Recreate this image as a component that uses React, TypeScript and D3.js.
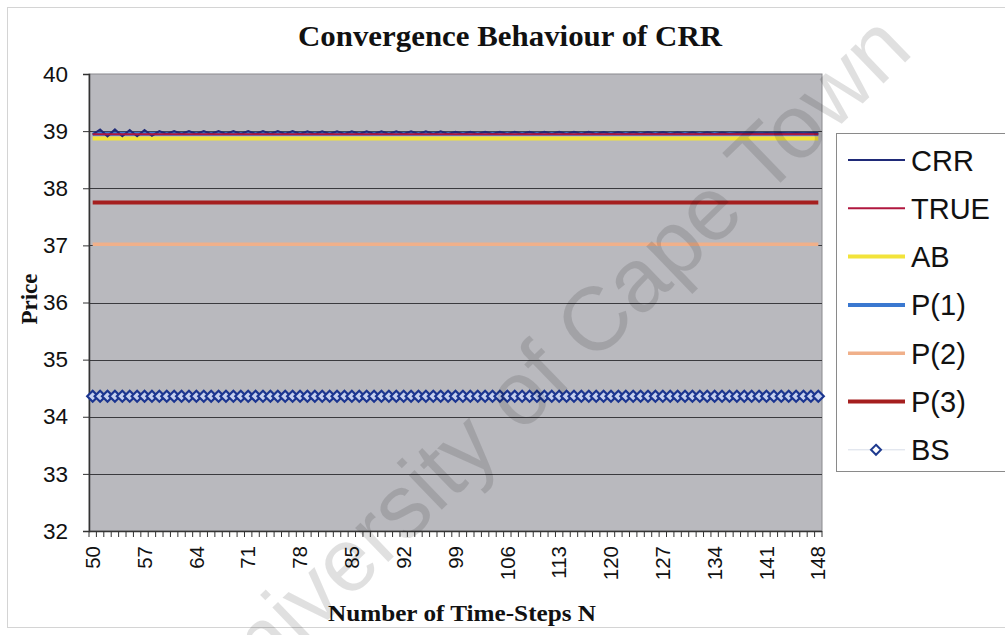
import React, { useRef, useEffect } from "react";
import * as d3 from "d3";

const W = 1005;
const H = 635;
const PLOT = { left: 89, right: 822, top: 74, bottom: 531 };

// time-steps N on the category axis
const STEPS: number[] = d3.range(50, 149);
const TICK_LABELS = ["50", "57", "64", "71", "78", "85", "92", "99", "106", "113", "120", "127", "134", "141", "148"];
const Y_TICKS = [32, 33, 34, 35, 36, 37, 38, 39, 40];

// CRR price per N (oscillates then settles)
const CRR = [
  38.94, 39.03, 38.91, 39.03, 38.91, 39.02, 38.91, 39.02, 38.92,
  39.0, 38.95, 39.0, 38.95, 39.0, 38.95, 39.0, 38.95, 39.0, 38.95,
  39.0, 38.95, 39.0, 38.95, 39.0, 38.95, 39.0, 38.95, 39.0, 38.95,
  38.995, 38.95, 38.995, 38.95, 38.995, 38.95, 38.995, 38.95, 38.995, 38.95,
  38.995, 38.95, 38.995, 38.95, 38.995, 38.95, 38.995, 38.95, 38.995, 38.95,
  38.99, 38.95, 38.99, 38.95, 38.99, 38.95, 38.99, 38.95, 38.99, 38.95,
  38.99, 38.95, 38.99, 38.95, 38.99, 38.95, 38.99, 38.95, 38.99, 38.95,
  38.985, 38.95, 38.985, 38.95, 38.985, 38.95, 38.985, 38.95, 38.985, 38.95,
  38.98, 38.95, 38.98, 38.95, 38.98, 38.95, 38.975, 38.955,
  38.965, 38.962, 38.965, 38.962, 38.965, 38.962, 38.965, 38.962, 38.965, 38.962, 38.965, 38.962,
];
// the other methods are flat over N
const TRUE_PRICE = 38.945;
const AB_PRICE = 38.87;
const P1_PRICE = 38.955;
const P2_PRICE = 37.02;
const P3_PRICE = 37.75;
const BS_PRICE = 34.36;

const SERIES = [
  { name: "CRR", color: "#1f2a78", width: 2 },
  { name: "TRUE", color: "#b0173f", width: 2 },
  { name: "AB", color: "#f2e33a", width: 4 },
  { name: "P(1)", color: "#3a78d0", width: 4 },
  { name: "P(2)", color: "#f0b08a", width: 3.5 },
  { name: "P(3)", color: "#a51f1f", width: 4 },
  { name: "BS", color: "#1e3a8f", width: 1 },
];

const SANS = "Arial, 'Liberation Sans', sans-serif";
const SERIF = "'Times New Roman', 'Liberation Serif', serif";

export default function App() {
  const svgRef = useRef<SVGSVGElement>(null);

  useEffect(() => {
    const svg = d3.select(svgRef.current);
    svg.selectAll("*").remove();

    const x = d3
      .scaleBand<number>()
      .domain(STEPS)
      .range([PLOT.left, PLOT.right])
      .padding(0);
    const cx = (n: number) => (x(n) as number) + x.bandwidth() / 2;
    const y = d3.scaleLinear().domain([32, 40]).range([PLOT.bottom, PLOT.top]);

    // chart area border
    svg
      .append("rect")
      .attr("x", 7.5)
      .attr("y", 7.5)
      .attr("width", W)
      .attr("height", 620)
      .attr("fill", "#fff")
      .attr("stroke", "#d4d4d4");

    // plot background
    svg
      .append("rect")
      .attr("x", PLOT.left)
      .attr("y", PLOT.top)
      .attr("width", PLOT.right - PLOT.left)
      .attr("height", PLOT.bottom - PLOT.top)
      .attr("fill", "#b9b9be")
      .attr("stroke", "#8a8a8e");

    // grid
    svg
      .append("g")
      .selectAll("line")
      .data(Y_TICKS.filter((t) => t > 32 && t < 40))
      .join("line")
      .attr("x1", PLOT.left)
      .attr("x2", PLOT.right)
      .attr("y1", (d) => Math.round(y(d)) + 0.5)
      .attr("y2", (d) => Math.round(y(d)) + 0.5)
      .attr("stroke", "#3a3a3e")
      .attr("stroke-width", 1);

    // y axis
    const yAxis = svg
      .append("g")
      .attr("transform", `translate(${PLOT.left},0)`)
      .call(d3.axisLeft(y).tickValues(Y_TICKS).tickSize(6).tickPadding(15).tickFormat(d3.format("d")));
    yAxis.select(".domain").attr("stroke", "#333").attr("stroke-width", 1.5);
    yAxis.selectAll(".tick line").attr("stroke", "#333");
    yAxis
      .selectAll(".tick text")
      .attr("font-family", SANS)
      .attr("font-size", 22.5)
      .attr("fill", "#111");

    // x axis: ticks between categories, labels every 7 steps
    const xAxisG = svg.append("g");
    xAxisG
      .append("line")
      .attr("x1", PLOT.left)
      .attr("x2", PLOT.right)
      .attr("y1", PLOT.bottom + 0.5)
      .attr("y2", PLOT.bottom + 0.5)
      .attr("stroke", "#333")
      .attr("stroke-width", 1.5);
    xAxisG
      .selectAll("line.tk")
      .data([...STEPS, STEPS[STEPS.length - 1] + 1])
      .join("line")
      .attr("class", "tk")
      .attr("x1", (d, i) => (i < STEPS.length ? (x(d) as number) : PLOT.right))
      .attr("x2", (d, i) => (i < STEPS.length ? (x(d) as number) : PLOT.right))
      .attr("y1", PLOT.bottom)
      .attr("y2", PLOT.bottom + 6)
      .attr("stroke", "#333")
      .attr("stroke-width", 1);
    xAxisG
      .selectAll("text")
      .data(TICK_LABELS)
      .join("text")
      .attr("transform", (d) => `translate(${cx(+d)},${PLOT.bottom + 15}) rotate(-90)`)
      .attr("text-anchor", "end")
      .attr("dy", "0.35em")
      .attr("font-family", SANS)
      .attr("font-size", 20.5)
      .attr("fill", "#111")
      .text((d) => d);

    const line = d3
      .line<number>()
      .x((_, i) => cx(STEPS[i]))
      .y((d) => y(d));
    const flat = (v: number) => STEPS.map(() => v);

    const lines: [string, number[]][] = [
      ["P(1)", flat(P1_PRICE)],
      ["AB", flat(AB_PRICE)],
      ["CRR", CRR],
      ["TRUE", flat(TRUE_PRICE)],
      ["P(2)", flat(P2_PRICE)],
      ["P(3)", flat(P3_PRICE)],
    ];
    const seriesG = svg.append("g");
    lines.forEach(([name, vals]) => {
      const s = SERIES.find((d) => d.name === name)!;
      seriesG
        .append("path")
        .attr("d", line(vals))
        .attr("fill", "none")
        .attr("stroke", s.color)
        .attr("stroke-width", s.width);
    });

    // BS diamonds
    const diamond = (r: number) => `M0,${-r}L${r},0L0,${r}L${-r},0Z`;
    seriesG
      .selectAll("path.bs")
      .data(STEPS)
      .join("path")
      .attr("class", "bs")
      .attr("transform", (d) => `translate(${cx(d)},${y(BS_PRICE)})`)
      .attr("d", diamond(5.5))
      .attr("fill", "#c4cfee")
      .attr("stroke", "#1b3590")
      .attr("stroke-width", 2.2);

    // titles
    svg
      .append("text")
      .attr("x", 510)
      .attr("y", 46)
      .attr("text-anchor", "middle")
      .attr("font-family", SERIF)
      .attr("font-weight", "bold")
      .attr("font-size", 29)
      .attr("textLength", 424)
      .attr("lengthAdjust", "spacingAndGlyphs")
      .attr("fill", "#111")
      .text("Convergence Behaviour of CRR");
    svg
      .append("text")
      .attr("transform", `translate(37,299) rotate(-90)`)
      .attr("text-anchor", "middle")
      .attr("font-family", SERIF)
      .attr("font-weight", "bold")
      .attr("font-size", 23)
      .attr("fill", "#111")
      .text("Price");
    svg
      .append("text")
      .attr("x", 462)
      .attr("y", 621)
      .attr("text-anchor", "middle")
      .attr("font-family", SERIF)
      .attr("font-weight", "bold")
      .attr("font-size", 24)
      .attr("textLength", 268)
      .attr("lengthAdjust", "spacingAndGlyphs")
      .attr("fill", "#111")
      .text("Number of Time-Steps N");

    // legend
    const lg = svg.append("g");
    lg.append("rect")
      .attr("x", 836.5)
      .attr("y", 133.5)
      .attr("width", 200)
      .attr("height", 338)
      .attr("fill", "#fff")
      .attr("stroke", "#8a8a8a");
    SERIES.forEach((s, i) => {
      const ly = 160 + i * 48.3;
      const row = lg.append("g");
      if (s.name === "BS") {
        row.append("line")
          .attr("x1", 848).attr("x2", 905).attr("y1", ly).attr("y2", ly)
          .attr("stroke", "#d8dde8").attr("stroke-width", 1);
        row.append("path")
          .attr("transform", `translate(876,${ly})`)
          .attr("d", diamond(5))
          .attr("fill", "#fff")
          .attr("stroke", s.color)
          .attr("stroke-width", 2);
      } else {
        row.append("line")
          .attr("x1", 848).attr("x2", 905).attr("y1", ly).attr("y2", ly)
          .attr("stroke", s.color).attr("stroke-width", Math.max(s.width, 2));
      }
      row.append("text")
        .attr("x", 911)
        .attr("y", ly + 10.5)
        .attr("font-family", SANS)
        .attr("font-size", 29)
        .attr("fill", "#111")
        .text(s.name);
    });

    // scan watermark
    svg
      .append("text")
      .attr("transform", "translate(915,53) rotate(-44)")
      .attr("text-anchor", "end")
      .attr("font-family", SANS)
      .attr("font-size", 90)
      .attr("fill", "#000")
      .attr("fill-opacity", 0.12)
      .text("University of Cape Town");
  }, []);

  return (
    <svg
      ref={svgRef}
      width={W}
      height={H}
      style={{ position: "absolute", left: 0, top: 0, background: "#fff" }}
    />
  );
}
